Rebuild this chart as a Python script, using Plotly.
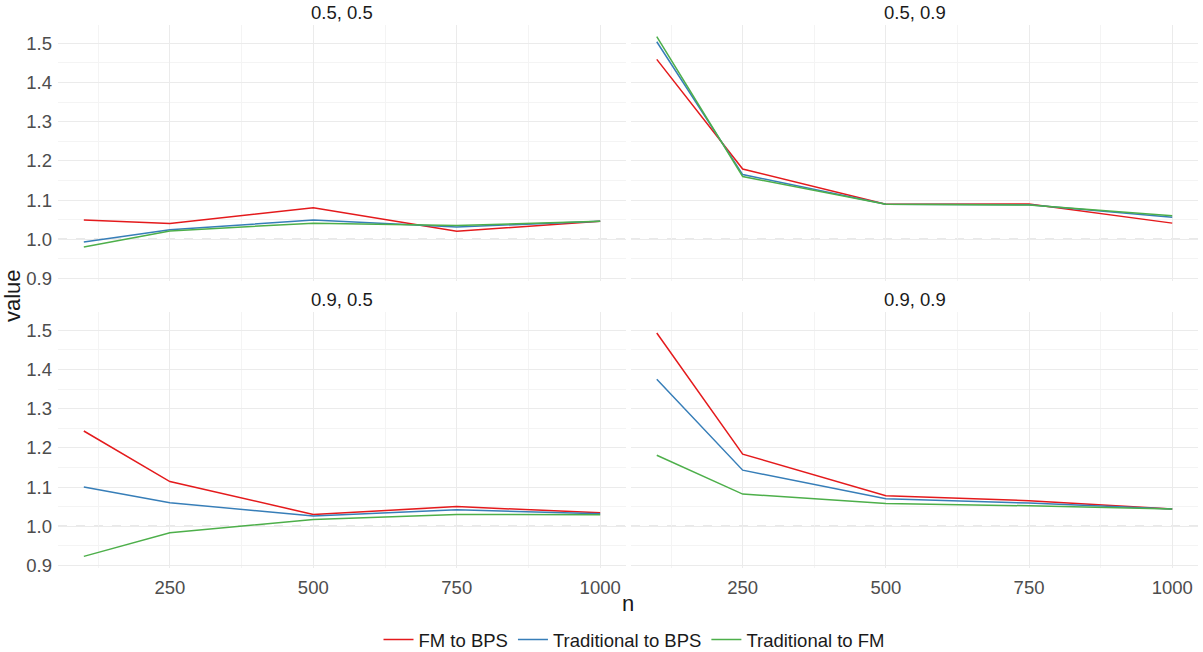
import plotly.graph_objects as go

n = [100, 250, 500, 750, 1000]
series = ["FM to BPS", "Traditional to BPS", "Traditional to FM"]
panels = ["0.5, 0.5", "0.5, 0.9", "0.9, 0.5", "0.9, 0.9"]

# values per panel, per series
p_05_05_fm_bps = [1.049, 1.040, 1.080, 1.020, 1.046]
p_05_05_trad_bps = [0.993, 1.024, 1.049, 1.031, 1.046]
p_05_05_trad_fm = [0.980, 1.021, 1.041, 1.035, 1.046]

p_05_09_fm_bps = [1.459, 1.179, 1.089, 1.090, 1.041]
p_05_09_trad_bps = [1.504, 1.165, 1.089, 1.088, 1.056]
p_05_09_trad_fm = [1.517, 1.160, 1.089, 1.087, 1.060]

p_09_05_fm_bps = [1.243, 1.114, 1.030, 1.050, 1.034]
p_09_05_trad_bps = [1.100, 1.060, 1.026, 1.042, 1.032]
p_09_05_trad_fm = [0.923, 0.983, 1.017, 1.030, 1.029]

p_09_09_fm_bps = [1.493, 1.184, 1.078, 1.065, 1.044]
p_09_09_trad_bps = [1.375, 1.143, 1.070, 1.059, 1.044]
p_09_09_trad_fm = [1.181, 1.082, 1.058, 1.052, 1.044]

x_ticks = [250, 500, 750, 1000]
y_ticks = [0.9, 1.0, 1.1, 1.2, 1.3, 1.4, 1.5]

colors = ["#E41A1C", "#377EB8", "#4DAF4A"]

panel_data = [
    [p_05_05_fm_bps, p_05_05_trad_bps, p_05_05_trad_fm],
    [p_05_09_fm_bps, p_05_09_trad_bps, p_05_09_trad_fm],
    [p_09_05_fm_bps, p_09_05_trad_bps, p_09_05_trad_fm],
    [p_09_09_fm_bps, p_09_09_trad_bps, p_09_09_trad_fm],
]

W, H = 1203, 652
FONT = "Liberation Sans, Arial, sans-serif"
TS = 18.5  # tick / strip / legend text size
AS = 22    # axis title size

# panel pixel boxes (left, right, top, bottom)
boxes = [
    (58, 626, 25, 281),
    (631, 1198, 25, 281),
    (58, 626, 312, 568),
    (631, 1198, 312, 568),
]

fig = go.Figure()
layout = dict(
    width=W, height=H,
    margin=dict(l=0, r=0, t=0, b=0, autoexpand=False),
    paper_bgcolor="white", plot_bgcolor="white",
    font=dict(family=FONT, color="#4D4D4D", size=TS),
    showlegend=True,
    legend=dict(orientation="h", x=634 / W, xanchor="center", y=1 - 640 / H, yanchor="middle",
                font=dict(size=TS, color="#1A1A1A"), itemwidth=30),
)

all_vals = [v for p in panel_data for s in p for v in s]
ymin, ymax = min(all_vals), max(all_vals)
pad = (ymax - ymin) * 0.05
yr = [ymin - pad, ymax + pad]
xr = [100 - 900 * 0.05, 1000 + 900 * 0.05]

annotations = []
shapes = []
for i, (l, r, t, b) in enumerate(boxes):
    k = "" if i == 0 else str(i + 1)
    xa, ya = "x" + k, "y" + k
    layout["xaxis" + k] = dict(
        domain=[l / W, r / W], range=xr, anchor=ya, automargin=False,
        tickvals=x_ticks, showticklabels=(i >= 2), ticklabelstandoff=6,
        showgrid=True, gridcolor="#EBEBEB", gridwidth=1, zeroline=False,
        showline=False, ticks="", tickfont=dict(size=TS, color="#4D4D4D"),
        minor=dict(dtick=125, tick0=0, showgrid=True, gridcolor="#F4F4F4", gridwidth=1),
    )
    layout["yaxis" + k] = dict(
        domain=[1 - b / H, 1 - t / H], range=yr, anchor=xa, automargin=False,
        tickvals=y_ticks, tickformat=".1f", showticklabels=(i % 2 == 0), ticklabelstandoff=5,
        showgrid=True, gridcolor="#EBEBEB", gridwidth=1, zeroline=False,
        showline=False, ticks="", tickfont=dict(size=TS, color="#4D4D4D"),
        minor=dict(dtick=0.05, tick0=0, showgrid=True, gridcolor="#F4F4F4", gridwidth=1),
    )
    shapes.append(dict(type="line", xref=xa + " domain", yref=ya, x0=0, x1=1, y0=1, y1=1,
                       line=dict(color="#B8B8B8", width=1, dash="dash"), layer="below"))
    annotations.append(dict(text=panels[i], xref="paper", yref="paper",
                            x=(l + r) / 2 / W, y=1 - (t - 13) / H, showarrow=False,
                            font=dict(size=TS, color="#1A1A1A"), xanchor="center", yanchor="middle"))
    for j, s in enumerate(series):
        fig.add_trace(go.Scatter(
            x=n, y=panel_data[i][j], mode="lines", name=s,
            line=dict(color=colors[j], width=1.5),
            xaxis=xa, yaxis=ya, showlegend=(i == 0), legendgroup=s,
        ))

annotations.append(dict(text="n", xref="paper", yref="paper", x=628 / W, y=1 - 603 / H,
                        showarrow=False, font=dict(size=AS, color="#1A1A1A"),
                        xanchor="center", yanchor="middle"))
annotations.append(dict(text="value", xref="paper", yref="paper", x=12 / W, y=1 - 296 / H,
                        showarrow=False, textangle=-90, font=dict(size=AS, color="#1A1A1A"),
                        xanchor="center", yanchor="middle"))

layout["annotations"] = annotations
layout["shapes"] = shapes
fig.update_layout(**layout)
fig.write_html("out.html")
